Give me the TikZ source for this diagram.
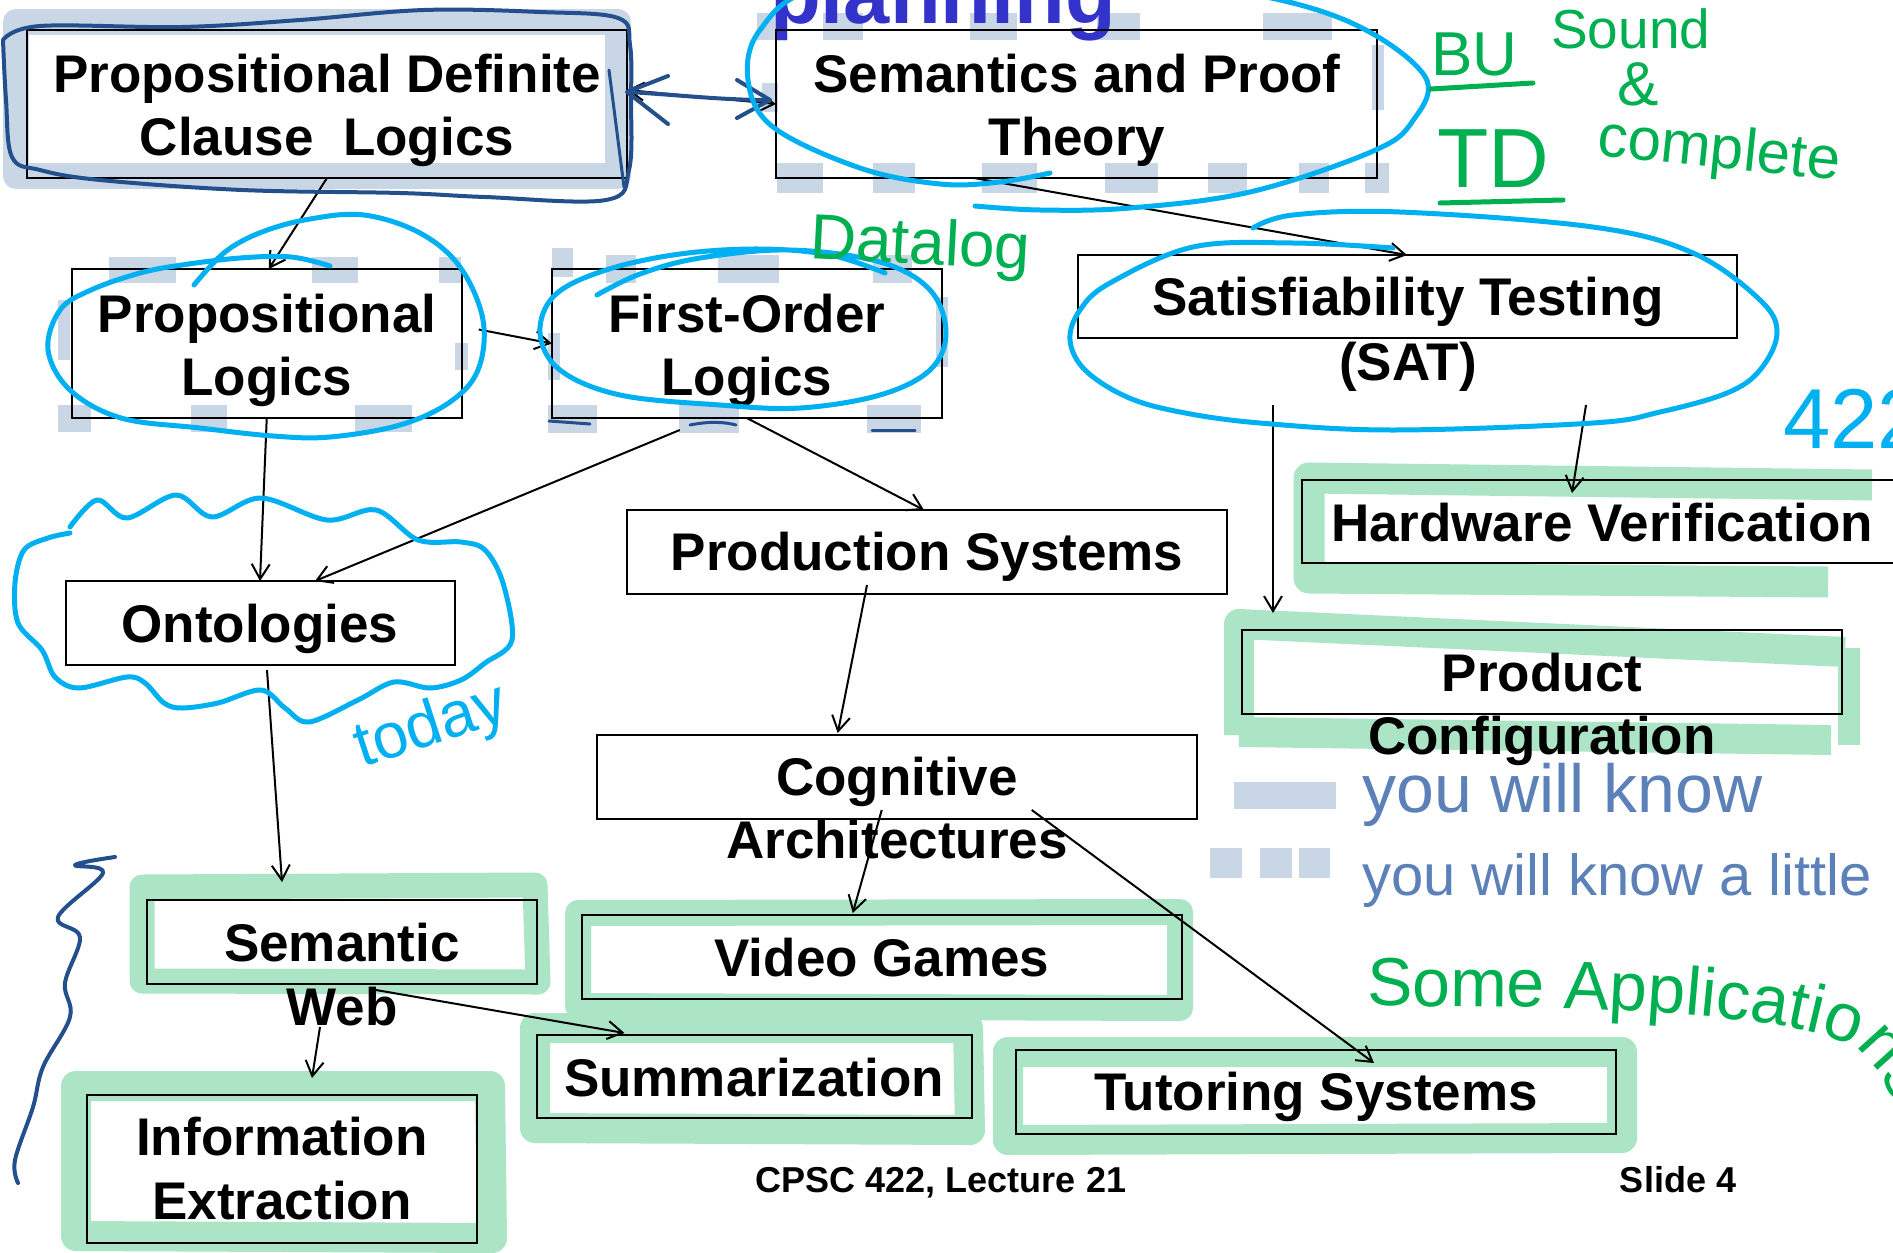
\documentclass[tikz,border=0pt]{standalone}
\usepackage{fontspec}
\setmainfont{Liberation Sans}
\newfontfamily\hand{Liberation Sans}
\usetikzlibrary{arrows.meta,decorations.text}

\definecolor{inkcyan}{RGB}{0,176,240}
\definecolor{inkgreen}{RGB}{0,176,80}
\definecolor{inknavy}{RGB}{35,80,140}
\definecolor{inkslate}{RGB}{92,128,184}
\definecolor{hlgreen}{RGB}{172,228,198}
\definecolor{hlblue}{RGB}{201,214,230}
\definecolor{titleblue}{RGB}{51,51,204}

\tikzset{
  box/.style={draw, line width=2pt, inner sep=0pt, outer sep=0pt},
  lbl/.style={font=\fontsize{53}{63}\selectfont\bfseries, inner sep=0pt, anchor=base},
  foot/.style={font=\fontsize{36}{40}\selectfont\bfseries, inner sep=0pt, anchor=base},
  conn/.style={line width=2pt, -{Straight Barb[length=15pt,width=18pt]}},
  biconn/.style={line width=2pt, {Straight Barb[length=15pt,width=18pt]}-{Straight Barb[length=15pt,width=18pt]}},
  pen/.style={line width=5pt, line cap=round, line join=round},
  hl/.style={line width=27pt, line join=round, hlgreen},
  note/.style={inner sep=0pt, anchor=base west},
}

\begin{document}
\begin{tikzpicture}[x=1pt,y=-1pt]
\useasboundingbox (0,0) rectangle (1893,1253);
\clip (0,0) rectangle (1893,1253);
\fill[white] (0,0) rectangle (1893,1253);

% ---- highlighter bands (blue-grey) ----
\draw[hlblue, line width=26pt, line join=round] (16,22) rectangle (618,176);
% dashed highlight round "Semantics and Proof Theory"
\foreach \a/\b in {757/777,823/863,970/1017,1097/1140,1263/1332}
  \fill[hlblue] (\a,13) rectangle (\b,40);
\foreach \a/\b in {777/823,873/915,982/1037,1105/1158,1208/1247,1299/1329,1365/1389}
  \fill[hlblue] (\a,163) rectangle (\b,193);
\fill[hlblue] (762,83) rectangle (778,112);
\fill[hlblue] (1372,45) rectangle (1384,110);
% dashed highlight round "Propositional Logics"
\foreach \a/\b in {109/176,312/358,439/461}
  \fill[hlblue] (\a,257) rectangle (\b,283);
\foreach \a/\b in {58/91,191/227,355/412}
  \fill[hlblue] (\a,405) rectangle (\b,432);
\fill[hlblue] (58,300) rectangle (70,360);
\fill[hlblue] (455,343) rectangle (468,370);
% dashed highlight round "First-Order Logics"
\fill[hlblue] (552,248) rectangle (573,277);
\foreach \a/\b in {606/636,718/779,873/912}
  \fill[hlblue] (\a,255) rectangle (\b,283);
\foreach \a/\b in {548/597,679/739,867/921}
  \fill[hlblue] (\a,405) rectangle (\b,433);
\fill[hlblue] (936,297) rectangle (948,367);
\fill[hlblue] (548,333) rectangle (560,380);
% legend swatches
\fill[hlblue] (1234,782) rectangle (1336,809);
\foreach \a/\b in {1210/1242,1260/1292,1299/1330}
  \fill[hlblue] (\a,848) rectangle (\b,878);

% ---- highlighter bands (green) ----
\draw[hl, line width=31pt] (1872,485) -- (1309,478) -- (1309,578) -- (1828,582);
\draw[hl, line width=30pt] (1239,735) -- (1239,624) -- (1845,652);
\draw[hl, line width=22pt] (1849,648) -- (1849,745);
\draw[hl, line width=30pt] (1239,732) -- (1831,740);
\draw[hl, line width=25pt] (142,887) -- (535,885) -- (538,982) -- (142,981) -- cycle;
\draw[hl, line width=30pt] (76,1086) -- (490,1086) -- (492,1238) -- (76,1236) -- cycle;
\draw[hl, line width=26pt] (578,913) -- (1180,912) -- (1180,1008) -- (578,1006) -- cycle;
\draw[hl, line width=30pt] (535,1028) -- (968,1028) -- (970,1130) -- (535,1128) -- cycle;
\draw[hl, line width=30pt] (1008,1052) -- (1622,1052) -- (1622,1138) -- (1008,1140) -- cycle;

% ---- title (mostly above the page) ----
\node[note, text=titleblue, font=\fontsize{83}{90}\selectfont\bfseries] (ttl) at (770,23) {planning};

% ---- boxes ----
\node[box, minimum width=600pt, minimum height=148pt] (pdcl) at (327,104) {};
\node[box, minimum width=601pt, minimum height=148pt] (sem) at (1076.5,104) {};
\node[box, minimum width=390pt, minimum height=149pt] (propl) at (266.75,343.5) {};
\node[box, minimum width=390pt, minimum height=149pt] (fol) at (746.75,343.5) {};
\node[box, minimum width=659pt, minimum height=83pt] (sat) at (1407,296.5) {};
\node[box, minimum width=600pt, minimum height=84pt] (prod) at (927,552) {};
\node[box, minimum width=600pt, minimum height=83pt] (hw) at (1602,521.5) {};
\node[box, minimum width=389pt, minimum height=84pt] (onto) at (260,623) {};
\node[box, minimum width=600pt, minimum height=84pt] (prodcfg) at (1542,672) {};
\node[box, minimum width=600pt, minimum height=84pt] (cog) at (896.75,777) {};
\node[box, minimum width=390pt, minimum height=84pt] (sweb) at (342,942) {};
\node[box, minimum width=600pt, minimum height=84pt] (vg) at (881.75,957) {};
\node[box, minimum width=435pt, minimum height=83pt] (summ) at (754.5,1076.5) {};
\node[box, minimum width=600pt, minimum height=84pt] (tut) at (1316,1092) {};
\node[box, minimum width=390pt, minimum height=148pt] (ie) at (282,1169) {};

% ---- labels ----
\node[lbl] (pdcl-a) at (327,92) {Propositional Definite};
\node[lbl] (pdcl-b) at (327,155) {Clause\ \ Logics};
\node[lbl] (sem-a) at (1077,92) {Semantics and Proof};
\node[lbl] (sem-b) at (1077,155) {Theory};
\node[lbl] (propl-a) at (267,332) {Propositional};
\node[lbl] (propl-b) at (267,395) {Logics};
\node[lbl] (fol-a) at (747,332) {First-Order};
\node[lbl] (fol-b) at (747,395) {Logics};
\node[lbl] (sat-a) at (1408,315) {Satisfiability Testing};
\node[lbl] (sat-b) at (1408,380) {(SAT)};
\node[lbl] (prod-a) at (927,570) {Production Systems};
\node[lbl] (hw-a) at (1602,541) {Hardware Verification};
\node[lbl] (onto-a) at (260,642) {Ontologies};
\node[lbl] (prodcfg-a) at (1542,691) {Product};
\node[lbl] (prodcfg-b) at (1542,754) {Configuration};
\node[lbl] (cog-a) at (897,795) {Cognitive};
\node[lbl] (cog-b) at (897,858) {Architectures};
\node[lbl] (sweb-a) at (342,961) {Semantic};
\node[lbl] (sweb-b) at (342,1025) {Web};
\node[lbl] (vg-a) at (882,976) {Video Games};
\node[lbl] (summ-a) at (754,1096) {Summarization};
\node[lbl] (tut-a) at (1316,1110) {Tutoring Systems};
\node[lbl] (ie-a) at (282,1155) {Information};
\node[lbl] (ie-b) at (282,1219) {Extraction};

\node[foot] (ft-a) at (941,1192) {CPSC 422, Lecture 21};
\node[foot] (ft-b) at (1678,1192) {Slide 4};

% ---- connectors ----
\draw[conn] (pdcl.south) -- ([xshift=2pt]propl.north);
\draw[biconn] ([yshift=14pt]pdcl.east) -- (sem.west);
\draw[conn] ([xshift=17pt,yshift=14pt]propl.east) -- (fol.west);
\draw[conn] ([xshift=-102.5pt]sem.south) -- (sat.north);
\draw[conn] (propl.south) -- (onto.north);
\draw[conn] ([xshift=-67pt,yshift=-12pt]fol.south) -- ([xshift=55pt]onto.north);
\draw[conn] (fol.south) -- ([xshift=-3pt]prod.north);
\draw[conn] ([xshift=-134pt,yshift=-67pt]sat.south) -- ([xshift=31pt,yshift=17pt]prodcfg.north west);
\draw[conn] ([xshift=179pt,yshift=-67pt]sat.south) -- ([xshift=-30pt,yshift=-13pt]hw.north);
\draw[conn] ([xshift=7pt,yshift=-5pt]onto.south) -- ([xshift=-60pt,yshift=18pt]sweb.north);
\draw[conn] ([xshift=-60pt,yshift=9pt]prod.south) -- ([xshift=-59pt,yshift=2pt]cog.north);
\draw[conn] ([xshift=-15pt,yshift=9pt]cog.south) -- ([xshift=-29pt,yshift=2pt]vg.north);
\draw[conn] ([xshift=135pt,yshift=9pt]cog.south) -- ([xshift=58pt,yshift=-13pt]tut.north);
\draw[conn] ([xshift=34pt,yshift=-6pt]sweb.south) -- ([xshift=-130pt,yshift=2pt]summ.north);
\draw[conn] ([xshift=-22pt,yshift=-43pt]sweb.south) -- ([xshift=30pt,yshift=17pt]ie.north);

% ---- navy pen: loop round the definite-clause box, arrow marks, brace ----
\draw[inknavy, pen, line width=4pt] plot[smooth, tension=0.6] coordinates {
  (3,40) (40,26) (182,27) (300,20) (424,10) (540,12) (618,18) (630,45)
  (631,100) (629,170) (606,200) (485,197) (400,193) (242,190) (100,180)
  (40,170) (12,157) (6,100) (3,40)};
\draw[inknavy, pen, line width=3pt] (609,70) -- (624,187);
\draw[inknavy, pen, line width=4pt] (628,92) .. controls (680,95) and (720,100) .. (770,100);
\draw[inknavy, pen, line width=4pt] (668,76) -- (627,92) -- (668,124);
\draw[inknavy, pen, line width=4pt] (737,80) -- (770,100) -- (737,118);
\draw[inknavy, pen, line width=3pt] (549,421) -- (590,424);
\draw[inknavy, pen, line width=3pt] (690,425) .. controls (710,421) and (725,422) .. (736,425);
\draw[inknavy, pen, line width=3pt] (872,430) -- (915,430);
\draw[inknavy, pen, line width=4pt] plot[smooth, tension=0.6] coordinates {
  (115,857) (75,865) (103,873) (58,917) (80,937) (65,983) (70,1017)
  (43,1067) (33,1107) (15,1160) (18,1183)};

% ---- cyan pen: loops and cloud ----
\draw[inkcyan, pen] plot[smooth, tension=0.6] coordinates {
  (1050,173) (1000,182) (940,184) (860,168) (773,127) (748,80) (760,30)
  (820,-12) (1000,-28) (1200,-14) (1340,18) (1424,75) (1412,122) (1371,152)
  (1250,192) (1130,208) (1040,210) (975,206)};
\draw[inkcyan, pen] plot[smooth, tension=0.6] coordinates {
  (194,285) (225,252) (262,232) (310,219) (364,215) (420,233) (460,267)
  (483,320) (478,370) (450,402) (400,425) (330,437) (273,436) (200,428)
  (121,418) (70,390) (48,350) (60,310) (91,290) (140,273) (182,265)
  (240,258) (291,257) (330,266)};
\draw[inkcyan, pen] plot[smooth, tension=0.6] coordinates {
  (597,295) (640,274) (700,258) (790,250) (880,262) (930,290) (946,333)
  (930,370) (880,395) (800,408) (720,405) (620,395) (560,370) (540,333)
  (555,295) (606,270) (680,254) (760,249) (830,255) (885,273)};
\draw[inkcyan, pen] plot[smooth, tension=0.6] coordinates {
  (1253,228) (1293,215) (1400,212) (1593,227) (1693,253) (1760,300)
  (1777,333) (1760,370) (1727,393) (1660,412) (1593,423) (1393,430)
  (1260,423) (1180,412) (1127,397) (1085,370) (1070,340) (1080,310)
  (1110,283) (1193,247) (1293,243) (1393,248)};
\draw[inkcyan, pen] plot[smooth, tension=0.55] coordinates {
  (70,527) (97,500) (127,518) (176,495) (212,517) (261,498) (327,520)
  (376,510) (418,540) (461,542) (485,550) (503,583) (512,640) (485,663)
  (461,680) (430,688) (394,682) (358,700) (309,722) (285,708) (261,690)
  (218,703) (182,708) (164,703) (145,683) (127,677) (79,688) (55,677)
  (42,650) (18,623) (15,583) (24,550) (48,538) (70,533)};

% ---- handwritten notes ----
\node[note, text=inkgreen, rotate=-3, font=\hand\fontsize{64}{70}\selectfont] (n-datalog) at (809,258) {Datalog};
\node[note, text=inkgreen, font=\hand\fontsize{62}{70}\selectfont] (n-bu) at (1431,75) {BU};
\draw[inkgreen, pen] (1431,89) -- (1533,83);
\node[note, text=inkgreen, font=\hand\fontsize{84}{90}\selectfont] (n-td) at (1437,187) {TD};
\draw[inkgreen, pen] (1440,203) -- (1563,200);
\node[note, text=inkgreen, font=\hand\fontsize{55}{60}\selectfont] (n-sound) at (1551,48) {Sound};
\node[note, text=inkgreen, font=\hand\fontsize{62}{70}\selectfont] (n-amp) at (1617,105) {\&};
\node[note, text=inkgreen, rotate=-6, font=\hand\fontsize{60}{66}\selectfont] (n-complete) at (1596,155) {complete};
\node[note, text=inkcyan, font=\hand\fontsize{85}{90}\selectfont] (n-422) at (1783,448) {422};
\node[note, text=inkcyan, rotate=18, font=\hand\fontsize{64}{70}\selectfont] (n-today) at (362,768) {today};
\node[note, text=inkslate, font=\hand\fontsize{68}{74}\selectfont] (n-know) at (1362,812) {you will know};
\node[note, text=inkslate, font=\hand\fontsize{58}{64}\selectfont] (n-little) at (1362,895) {you will know a little};
\path[decorate, decoration={text along path, text color=inkgreen,
    text={|\hand\fontsize{68}{72}\selectfont|Some Applications}}]
  plot[smooth, tension=0.6] coordinates {(1367,1006) (1560,1008) (1700,1016) (1800,1030) (1860,1052) (1893,1100) (1905,1140)};
\end{tikzpicture}
\end{document}
